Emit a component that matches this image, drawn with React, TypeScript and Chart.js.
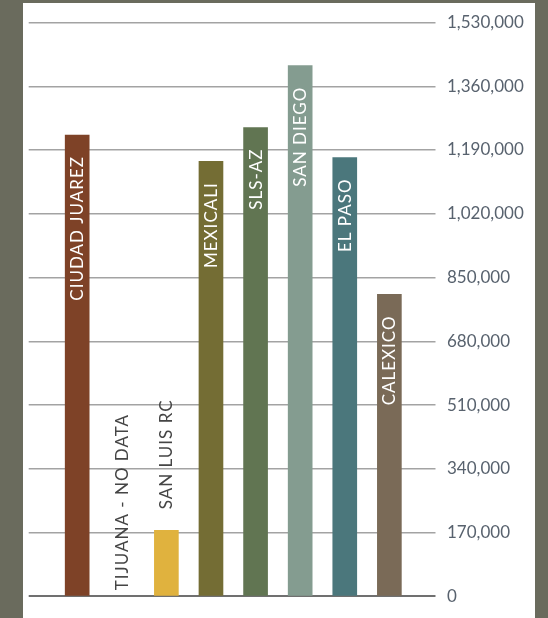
import React, { useEffect, useRef } from 'react';
import { Chart, registerables } from 'chart.js';

Chart.register(...registerables);

const categories: string[] = [
  'CIUDAD JUAREZ',
  'TIJUANA - NO DATA',
  'SAN LUIS RC',
  'MEXICALI',
  'SLS-AZ',
  'SAN DIEGO',
  'EL PASO',
  'CALEXICO',
];
const values: (number | null)[] = [1230000, null, 176000, 1160000, 1250000, 1415000, 1170000, 805000];
const barColors: string[] = ['#7e4227', '#ffffff', '#e0b23e', '#746d34', '#617552', '#849c90', '#4b777c', '#7a6a57'];
const yTicks: number[] = [0, 170000, 340000, 510000, 680000, 850000, 1020000, 1190000, 1360000, 1530000];

const barLabels = {
  id: 'barLabels',
  afterDatasetsDraw(chart: any) {
    const { ctx } = chart;
    const x = chart.scales.x;
    const y = chart.scales.y;
    ctx.save();
    ctx.font = '17px Lato';
    (ctx as any).letterSpacing = '1px';
    ctx.textBaseline = 'alphabetic';
    categories.forEach((name, i) => {
      const v = values[i];
      const px = x.getPixelForValue(i);
      const base = y.getPixelForValue(0);
      let anchorY: number;
      let align: CanvasTextAlign;
      let color: string;
      if (v == null) {
        anchorY = base - 6;
        align = 'left';
        color = '#454545';
      } else if (v < 400000) {
        anchorY = y.getPixelForValue(v) - 21;
        align = 'left';
        color = '#454545';
      } else {
        anchorY = y.getPixelForValue(v) + 21;
        align = 'right';
        color = '#ffffff';
      }
      ctx.save();
      ctx.translate(px, anchorY);
      ctx.rotate(-Math.PI / 2);
      ctx.textAlign = align;
      ctx.fillStyle = color;
      ctx.fillText(name, 0, 6);
      ctx.restore();
    });
    ctx.restore();
  },
};

export default function App() {
  const ref = useRef<HTMLCanvasElement | null>(null);

  useEffect(() => {
    if (!ref.current) return;
    const chart = new Chart(ref.current, {
      type: 'bar',
      data: {
        datasets: [
          {
            data: categories.map((c, i) => ({ x: i, y: values[i] })) as any,
            backgroundColor: barColors,
            barThickness: 24,
            borderWidth: 0,
          },
        ],
      },
      options: {
        animation: false,
        responsive: false,
        devicePixelRatio: 1,
        layout: { padding: { left: 28.7, right: 0, top: 22.5, bottom: 17.5 } },
        plugins: { legend: { display: false }, tooltip: { enabled: false } },
        scales: {
          x: { type: 'linear', display: false, offset: false, min: -1.087, max: 7.855 },
          y: {
            position: 'right',
            min: 0,
            max: 1530000,
            border: { display: false },
            grid: {
              color: (c: any) => (c.tick && c.tick.value === 0 ? '#707070' : '#a3a3a3'),
              lineWidth: (c: any) => (c.tick && c.tick.value === 0 ? 2 : 1.5),
              tickLength: 8,
            },
            ticks: {
              padding: 11.5,
              color: '#58626e',
              font: { family: 'Lato', size: 17 },
              callback: (v: any) => Number(v).toLocaleString('en-US'),
            },
            afterFit: (s: any) => {
              s.width = 120.5;
            },
            afterBuildTicks: (s: any) => {
              s.ticks = yTicks.map((v) => ({ value: v }));
            },
          } as any,
        },
      },
      plugins: [barLabels],
    });
    return () => chart.destroy();
  }, []);

  return (
    <div style={{ position: 'fixed', left: 0, top: 0, width: 548, height: 618, background: '#6a6b5d' }}>
      <div style={{ position: 'absolute', left: 23, top: 3, width: 512, height: 615, background: '#ffffff' }} />
      <canvas ref={ref} width={548} height={618} style={{ position: 'absolute', left: 0, top: 0, width: 548, height: 618 }} />
    </div>
  );
}
